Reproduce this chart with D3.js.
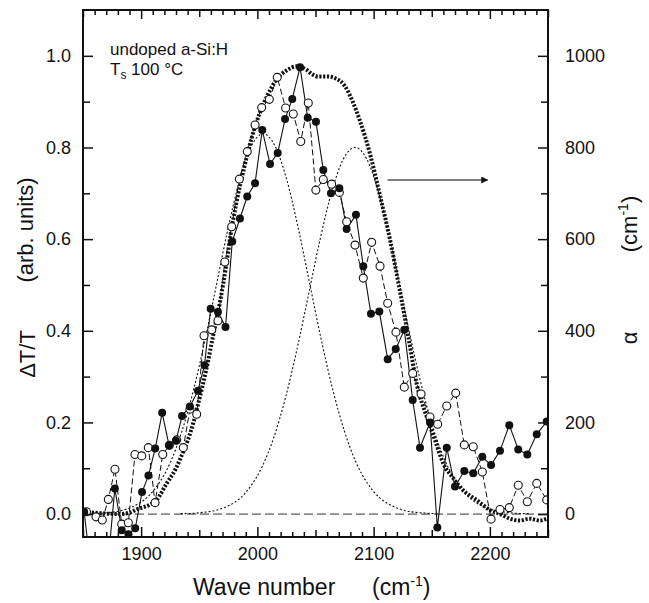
<!DOCTYPE html>
<html>
<head>
<meta charset="utf-8">
<script src="https://d3js.org/d3.v7.min.js"></script>
<style>
  body { margin: 0; background: #fff; }
  svg text { font-family: "Liberation Sans", Arial, Helvetica, sans-serif; fill: #111; }
</style>
</head>
<body>
<div id="chart"></div>
<script>

// filled circles, solid line (dT/T)
const filledX = [1851, 1858, 1865, 1871, 1877.4, 1883.3, 1889.1, 1894.9, 1900.8, 1906.3, 1912.1, 1918.1, 1924, 1930,
  1935.2, 1942, 1948.9, 1954.5, 1959.8, 1966.1, 1972.6, 1978.4, 1985, 1991.3, 1998, 2004.2, 2010.9, 2017.5, 2023.8,
  2030, 2036.7, 2043.3, 2050.4, 2056.7, 2063.3, 2070.5, 2076.8, 2084.8, 2091.1, 2097.7, 2104.9, 2112.1, 2119, 2126.4,
  2133.6, 2139.9, 2148.5, 2154.8, 2162.9, 2170, 2178, 2185.7, 2193.5, 2201, 2208.7, 2216.7, 2224.4, 2232.2, 2240.3, 2248.9];
const filledY = [0.005, -0.15, -0.12, -0.12, 0.056, -0.035, -0.044, -0.031, 0.048, 0.084, 0.143, 0.221, 0.150, 0.160,
  0.214, 0.235, 0.269, 0.325, 0.448, 0.441, 0.408, 0.595, 0.645, 0.693, 0.722, 0.838, 0.764, 0.788, 0.862,
  0.906, 0.975, 0.865, 0.856, 0.751, 0.700, 0.711, 0.622, 0.653, 0.541, 0.437, 0.442, 0.338, 0.360, 0.402,
  0.249, 0.145, 0.200, -0.029, 0.145, 0.060, 0.094, 0.089, 0.125, 0.107, 0.138, 0.194, 0.141, 0.130, 0.174, 0.202];

// open circles, dashed line (dT/T)
const openX = [1853, 1861.2, 1866.6, 1871.8, 1877.5, 1883.3, 1889, 1894.7, 1900.5, 1906.2, 1912, 1918.6, 1924.3, 1930.6,
  1936.3, 1942, 1947.8, 1954.1, 1960.7, 1966.1, 1972, 1977.9, 1984.5, 1991.3, 1998, 2003.7, 2010.3, 2017.1, 2024.3,
  2030.9, 2037.3, 2043.8, 2050.3, 2056.7, 2063.9, 2070.5, 2076.8, 2084, 2091.1, 2098.3, 2105.5, 2112.1, 2119.2, 2126.4,
  2133.6, 2140.8, 2148.5, 2155.1, 2162.9, 2170.6, 2178, 2185.7, 2193.5, 2201, 2208.7, 2216.7, 2224.4, 2232.2, 2240.3, 2248.9];
const openY = [0.005, -0.006, -0.013, 0.032, 0.098, -0.022, -0.019, 0.130, 0.127, 0.145, 0.025, 0.130, 0.150, 0.162,
  0.145, 0.229, 0.218, 0.389, 0.402, 0.422, 0.550, 0.627, 0.731, 0.791, 0.849, 0.887, 0.905, 0.953, 0.886,
  0.873, 0.813, 0.897, 0.707, 0.730, 0.720, 0.702, 0.638, 0.587, 0.515, 0.593, 0.541, 0.460, 0.397, 0.277,
  0.307, 0.262, 0.212, 0.196, 0.236, 0.264, 0.151, 0.147, 0.092, -0.011, 0.010, 0.014, 0.063, 0.027, 0.067, 0.031];

// absorption coefficient alpha (right axis, cm^-1), thick dotted
const alphaX = [1851, 1865, 1880, 1890, 1896, 1907, 1913, 1922, 1930, 1936, 1940, 1945, 1950, 1956, 1962, 1968, 1973,
  1977, 1982, 1989, 1995, 2002, 2008, 2017, 2025, 2034, 2042, 2047, 2052, 2060, 2068, 2075, 2082, 2088, 2097, 2105,
  2114, 2122, 2130, 2137, 2146, 2153, 2160, 2168, 2177, 2189, 2200, 2209, 2217, 2226, 2234, 2243, 2249];
const alphaY = [5, 2, 0, 3, 10, 20, 30, 67, 100, 135, 160, 200, 250, 315, 390, 465, 540,
  610, 680, 760, 820, 875, 910, 950, 968, 977, 970, 960, 955, 955, 950, 935, 900, 860, 785, 700,
  600, 495, 385, 285, 210, 160, 110, 80, 52, 30, 9, 0, -10, -14, -10, -14, -10];

// two fitted gaussian components, thin dotted
const g1X = [1855, 1865, 1875, 1885, 1895, 1905, 1915, 1925, 1935, 1945, 1955, 1965, 1975, 1985, 1995, 2005,
  2015, 2025, 2035, 2045, 2055, 2065, 2075, 2085, 2095, 2105, 2115, 2125, 2135, 2145, 2155];
const g1Y = [0.001, 0.002, 0.004, 0.009, 0.019, 0.036, 0.066, 0.112, 0.180, 0.270, 0.380, 0.503, 0.626, 0.732, 0.804, 0.830,
  0.804, 0.732, 0.626, 0.503, 0.380, 0.270, 0.180, 0.112, 0.066, 0.036, 0.019, 0.009, 0.004, 0.002, 0.001];
const g2X = [1934, 1944, 1954, 1964, 1974, 1984, 1994, 2004, 2014, 2024, 2034, 2044, 2054, 2064, 2074, 2084,
  2094, 2104, 2114, 2124, 2134, 2144, 2154, 2164, 2174, 2184, 2194, 2204, 2214, 2224, 2234];
const g2Y = [0.001, 0.0015, 0.004, 0.008, 0.017, 0.032, 0.060, 0.103, 0.166, 0.252, 0.359, 0.479, 0.600, 0.704, 0.775, 0.800,
  0.775, 0.704, 0.600, 0.479, 0.359, 0.252, 0.166, 0.103, 0.060, 0.032, 0.017, 0.008, 0.004, 0.0015, 0.001];

const xTicks = [1900, 2000, 2100, 2200];
const yLeftTicks = [0, 0.2, 0.4, 0.6, 0.8, 1.0];
const yRightTicks = [0, 200, 400, 600, 800, 1000];

const W = 649, H = 603;
const pLeft = 83, pRight = 548, pTop = 10, pBottom = 537;

const svg = d3.select("#chart").append("svg")
    .attr("width", W)
    .attr("height", H);

const x = d3.scaleLinear().domain([1850, 2250]).range([pLeft, pRight]);
const yL = d3.scaleLinear().domain([-0.05, 1.1]).range([pBottom, pTop]);
const yR = d3.scaleLinear().domain([-50, 1100]).range([pBottom, pTop]);

svg.append("clipPath").attr("id", "clip")
  .append("rect")
    .attr("x", pLeft).attr("y", pTop)
    .attr("width", pRight - pLeft).attr("height", pBottom - pTop);

const plot = svg.append("g").attr("clip-path", "url(#clip)");

// zero baseline
plot.append("line")
    .attr("x1", pLeft).attr("x2", pRight)
    .attr("y1", yL(0)).attr("y2", yL(0))
    .attr("stroke", "#333")
    .attr("stroke-width", 1)
    .attr("stroke-dasharray", "9,4");

const toPts = (xs, ys) => xs.map((d, i) => [d, ys[i]]);

// gaussians
[[g1X, g1Y], [g2X, g2Y]].forEach(([gx, gy]) => {
  plot.append("path")
      .datum(toPts(gx, gy))
      .attr("fill", "none")
      .attr("stroke", "#111")
      .attr("stroke-width", 1.1)
      .attr("stroke-dasharray", "2,2")
      .attr("d", d3.line().curve(d3.curveMonotoneX).x(d => x(d[0])).y(d => yL(d[1])));
});

// alpha thick dotted
plot.append("path")
    .datum(toPts(alphaX, alphaY))
    .attr("fill", "none")
    .attr("stroke", "#111")
    .attr("stroke-width", 4)
    .attr("stroke-dasharray", "2.2,1.6")
    .attr("d", d3.line().curve(d3.curveMonotoneX).x(d => x(d[0])).y(d => yR(d[1])));

// open circle series
const openPts = toPts(openX, openY);
plot.append("path")
    .datum(openPts)
    .attr("fill", "none")
    .attr("stroke", "#111")
    .attr("stroke-width", 1)
    .attr("stroke-dasharray", "6,3")
    .attr("d", d3.line().x(d => x(d[0])).y(d => yL(d[1])));

// filled circle series
const filledPts = toPts(filledX, filledY);
plot.append("path")
    .datum(filledPts)
    .attr("fill", "none")
    .attr("stroke", "#111")
    .attr("stroke-width", 1.1)
    .attr("d", d3.line().x(d => x(d[0])).y(d => yL(d[1])));

plot.append("g").selectAll("circle")
  .data(openPts)
  .join("circle")
    .attr("cx", d => x(d[0]))
    .attr("cy", d => yL(d[1]))
    .attr("r", 4)
    .attr("fill", "#fff")
    .attr("stroke", "#111")
    .attr("stroke-width", 1.1);

plot.append("g").selectAll("circle")
  .data(filledPts)
  .join("circle")
    .attr("cx", d => x(d[0]))
    .attr("cy", d => yL(d[1]))
    .attr("r", 4)
    .attr("fill", "#111");

// axes
function styleAxis(g) {
  g.select(".domain").remove();
  g.selectAll(".tick line").attr("stroke", "#111").attr("stroke-width", 1.5);
  g.selectAll(".tick text").style("font-size", "18px").attr("fill", "#111");
}
const minorX = d3.range(1860, 2250, 10).filter(v => v % 50 !== 0);
const midX = [1850, 1950, 2050, 2150, 2250];

// bottom
svg.append("g").attr("transform", `translate(0,${pBottom})`)
  .call(d3.axisBottom(x).tickValues(minorX).tickSize(-5).tickFormat(""))
  .call(styleAxis);
svg.append("g").attr("transform", `translate(0,${pBottom})`)
  .call(d3.axisBottom(x).tickValues(midX).tickSize(-7).tickFormat(""))
  .call(styleAxis);
svg.append("g").attr("transform", `translate(0,${pBottom})`)
  .call(d3.axisBottom(x).tickValues(xTicks).tickSize(-10).tickPadding(10).tickFormat(d3.format("d")))
  .call(styleAxis);

// top
svg.append("g").attr("transform", `translate(0,${pTop})`)
  .call(d3.axisTop(x).tickValues(minorX).tickSize(-5).tickFormat(""))
  .call(styleAxis);
svg.append("g").attr("transform", `translate(0,${pTop})`)
  .call(d3.axisTop(x).tickValues(midX).tickSize(-7).tickFormat(""))
  .call(styleAxis);
svg.append("g").attr("transform", `translate(0,${pTop})`)
  .call(d3.axisTop(x).tickValues(xTicks).tickSize(-9).tickFormat(""))
  .call(styleAxis);

// left
svg.append("g").attr("transform", `translate(${pLeft},0)`)
  .call(d3.axisLeft(yL).tickValues([0.1, 0.3, 0.5, 0.7, 0.9]).tickSize(-7).tickFormat(""))
  .call(styleAxis);
svg.append("g").attr("transform", `translate(${pLeft},0)`)
  .call(d3.axisLeft(yL).tickValues(yLeftTicks).tickSize(-10).tickPadding(12).tickFormat(d3.format(".1f")))
  .call(styleAxis);

// right
svg.append("g").attr("transform", `translate(${pRight},0)`)
  .call(d3.axisRight(yR).tickValues([100, 300, 500, 700, 900]).tickSize(-7).tickFormat(""))
  .call(styleAxis);
svg.append("g").attr("transform", `translate(${pRight},0)`)
  .call(d3.axisRight(yR).tickValues(yRightTicks).tickSize(-10).tickPadding(17).tickFormat(d3.format("d")))
  .call(styleAxis);

// frame
svg.append("rect")
    .attr("x", pLeft).attr("y", pTop)
    .attr("width", pRight - pLeft).attr("height", pBottom - pTop)
    .attr("fill", "none")
    .attr("stroke", "#111")
    .attr("stroke-width", 2);

// arrow pointing to right axis
svg.append("defs").append("marker")
    .attr("id", "head")
    .attr("viewBox", "0 0 10 10")
    .attr("refX", 9).attr("refY", 5)
    .attr("markerWidth", 14).attr("markerHeight", 7)
    .attr("markerUnits", "userSpaceOnUse")
    .attr("orient", "auto")
  .append("path")
    .attr("d", "M0,0L10,5L0,10Z")
    .attr("fill", "#111");
svg.append("line")
    .attr("x1", x(2112)).attr("x2", x(2198))
    .attr("y1", yL(0.729)).attr("y2", yL(0.729))
    .attr("stroke", "#555")
    .attr("stroke-width", 1.5)
    .attr("marker-end", "url(#head)");

// annotation text
svg.append("text")
    .attr("x", 110).attr("y", 55)
    .style("font-size", "17px")
    .text("undoped a-Si:H");
const ts = svg.append("text")
    .attr("x", 110).attr("y", 75)
    .style("font-size", "17px");
ts.append("tspan").text("T");
ts.append("tspan").attr("dy", 4).style("font-size", "12px").text("s");
ts.append("tspan").attr("dy", -4).text(" 100 \u00b0C");

// x axis title
svg.append("text")
    .attr("x", 193).attr("y", 595)
    .style("font-size", "23px")
    .text("Wave number");
const xu = svg.append("text")
    .attr("x", 372).attr("y", 595)
    .style("font-size", "23px");
xu.append("tspan").text("(cm");
xu.append("tspan").attr("dy", -9).style("font-size", "14px").text("-1");
xu.append("tspan").attr("dy", 9).text(")");

// left titles
svg.append("text")
    .attr("transform", "translate(35,354) rotate(-90)")
    .attr("text-anchor", "middle")
    .style("font-size", "22px")
    .text("\u0394T/T");
svg.append("text")
    .attr("transform", "translate(33,230) rotate(-90)")
    .attr("text-anchor", "middle")
    .style("font-size", "22px")
    .text("(arb. units)");

// right titles
svg.append("text")
    .attr("transform", "translate(637,338) rotate(-90)")
    .attr("text-anchor", "middle")
    .style("font-size", "22px")
    .text("\u03b1");
const ru = svg.append("text")
    .attr("transform", "translate(637,224) rotate(-90)")
    .attr("text-anchor", "middle")
    .style("font-size", "22px");
ru.append("tspan").text("(cm");
ru.append("tspan").attr("dy", -9).style("font-size", "14px").text("-1");
ru.append("tspan").attr("dy", 9).text(")");

</script>
</body>
</html>
